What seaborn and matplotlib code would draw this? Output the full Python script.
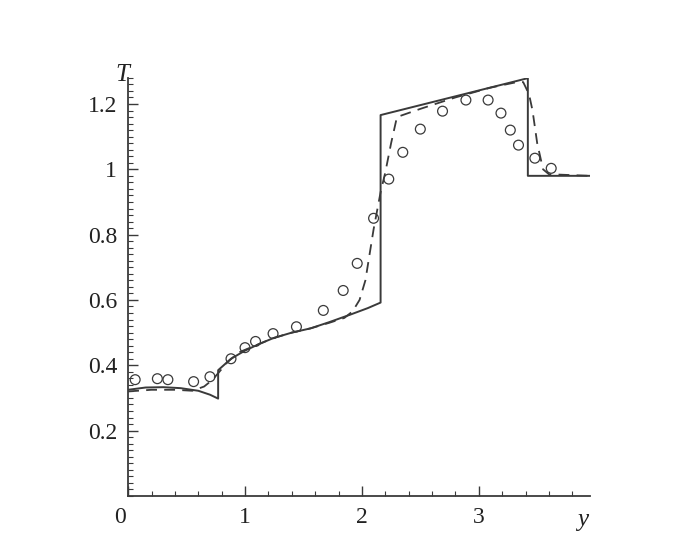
import pandas as pd
import seaborn as sb
import matplotlib
matplotlib.use("Agg")
import matplotlib.pyplot as plt
import matplotlib.transforms as mtrans
from matplotlib.ticker import MultipleLocator

sb.set_theme(style="ticks")
plt.rcParams['font.family'] = 'serif'
plt.rcParams['font.serif'] = ['Liberation Serif', 'DejaVu Serif']

# solid curve (exact / reference solution)
solid_y = [0.0, 0.15, 0.3, 0.45, 0.6, 0.7, 0.77, 0.77, 0.88, 1.0, 1.12, 1.24, 1.4,
           1.56, 1.72, 1.9, 2.05, 2.16, 2.16, 3.42, 3.42, 3.95]
solid_T = [0.325, 0.332, 0.333, 0.33, 0.322, 0.31, 0.298, 0.385, 0.42, 0.445, 0.465,
           0.483, 0.5, 0.513, 0.532, 0.555, 0.575, 0.592, 1.166, 1.279, 0.98, 0.98]

# dashed curve
dash_y = [0.0, 0.2, 0.4, 0.55, 0.65, 0.72, 0.78, 0.85, 0.95, 1.1, 1.24, 1.4, 1.56,
          1.72, 1.85, 1.92, 1.98, 2.03, 2.1, 2.16, 2.2, 2.25, 2.3, 2.5, 2.8, 3.1,
          3.3, 3.38, 3.43, 3.46, 3.5, 3.55, 3.6, 3.95]
dash_T = [0.32, 0.325, 0.325, 0.322, 0.335, 0.355, 0.38, 0.41, 0.44, 0.462, 0.483,
          0.5, 0.513, 0.53, 0.545, 0.565, 0.6, 0.66, 0.816, 0.93, 0.99, 1.08, 1.16,
          1.185, 1.22, 1.25, 1.265, 1.267, 1.23, 1.18, 1.08, 1.0, 0.985, 0.98]

# circles (measured / other solution)
circ_y = [0.06, 0.25, 0.34, 0.56, 0.70, 0.88, 1.0, 1.09, 1.24, 1.44, 1.67, 1.84,
          1.96, 2.10, 2.23, 2.35, 2.50, 2.69, 2.89, 3.08, 3.19, 3.27, 3.34, 3.48, 3.62]
circ_T = [0.356, 0.359, 0.356, 0.35, 0.365, 0.42, 0.454, 0.473, 0.497, 0.518, 0.568,
          0.629, 0.712, 0.85, 0.97, 1.052, 1.123, 1.178, 1.212, 1.212, 1.172, 1.12,
          1.074, 1.034, 1.003]

x_ticks = [0, 1, 2, 3]
x_labels = ["0", "1", "2", "3"]
y_ticks = [0.2, 0.4, 0.6, 0.8, 1.0, 1.2]
y_labels = ["0.2", "0.4", "0.6", "0.8", "1", "1.2"]

df_solid = pd.DataFrame({"y": solid_y, "T": solid_T})
df_dash = pd.DataFrame({"y": dash_y, "T": dash_T})
df_circ = pd.DataFrame({"y": circ_y, "T": circ_T})

fig = plt.figure(figsize=(6.89, 5.56), dpi=100)
ax = fig.add_axes([0.186, 0.108, 0.670, 0.752])

ink = "#3a3a3a"
sb.lineplot(data=df_solid, x="y", y="T", sort=False, estimator=None, color=ink,
            linewidth=1.4, ax=ax)
sb.lineplot(data=df_dash, x="y", y="T", sort=False, estimator=None, color=ink,
            linewidth=1.3, ax=ax, linestyle=(0, (6, 4)))
sb.scatterplot(data=df_circ, x="y", y="T", marker="o", s=50, facecolor="none",
               edgecolor=ink, linewidth=0.9, ax=ax, zorder=3)

ax.set_xlim(0, 3.95)
ax.set_ylim(0, 1.28)
ax.set_xticks(x_ticks)
ax.set_xticklabels(x_labels)
ax.set_yticks(y_ticks)
ax.set_yticklabels(y_labels)
ax.xaxis.set_minor_locator(MultipleLocator(0.2))
ax.yaxis.set_minor_locator(MultipleLocator(0.02))
ax.tick_params(which="major", direction="in", length=7, width=1, color=ink,
               labelsize=17, labelcolor="#222222", pad=8)
ax.tick_params(which="minor", direction="in", length=3.5, width=0.8, color=ink)
sb.despine(ax=ax)
for s in ["left", "bottom"]:
    ax.spines[s].set_color(ink)
    ax.spines[s].set_linewidth(1.3)
ax.set_xlabel("")
ax.set_ylabel("")

# origin label sits a little left of the corner
lbl0 = ax.get_xticklabels()[0]
lbl0.set_transform(lbl0.get_transform() +
                   mtrans.ScaledTranslation(-0.08, 0, fig.dpi_scale_trans))

fig.text(0.177, 0.865, "T", fontsize=18, style="italic", color="#222222",
         ha="center", va="center")
fig.text(0.846, 0.064, "y", fontsize=18, style="italic", color="#222222",
         ha="center", va="center")

fig.savefig("out.png", dpi=100, facecolor="white")
